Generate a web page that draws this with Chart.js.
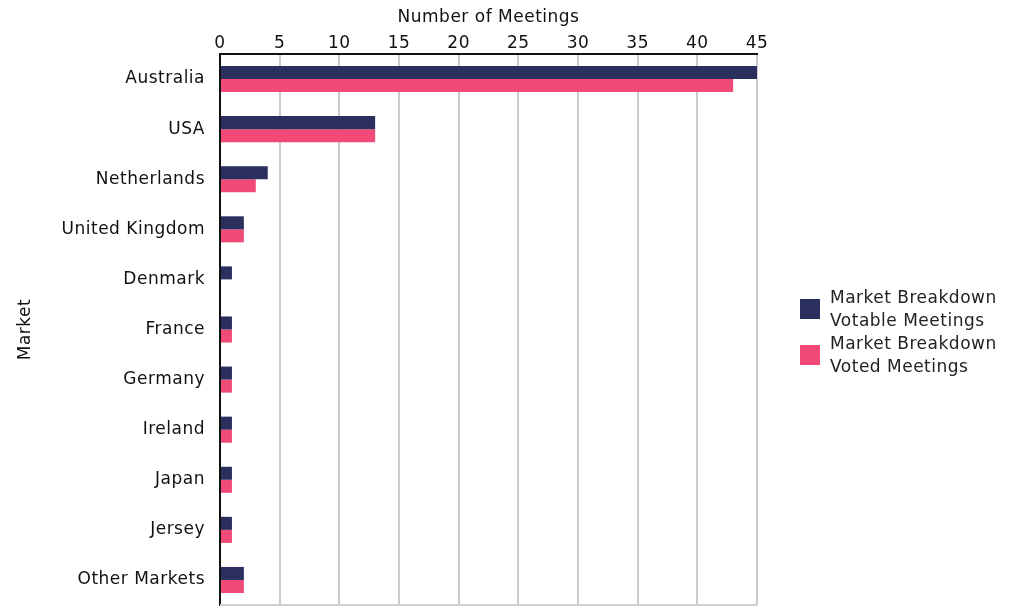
<!DOCTYPE html>
<html>
<head>
<meta charset="utf-8">
<script src="https://cdn.jsdelivr.net/npm/chart.js@4"></script>
<style>
  body { margin: 0; background: #fff; font-family: "DejaVu Sans", sans-serif; }
  #wrap { position: relative; width: 1021px; height: 609px; }
  #legend { position: absolute; left: 800px; top: 286px; font-size: 17px; letter-spacing: 0.5px; color: #222; line-height: 23px; }
  .item { display: flex; align-items: center; }
  .swatch { width: 20px; height: 20px; margin-right: 10px; }
</style>
</head>
<body>
<div id="wrap">
  <canvas id="marketChart" width="1021" height="609"></canvas>
  <div id="legend"></div>
</div>
<script>
const markets = ["Australia", "USA", "Netherlands", "United Kingdom", "Denmark", "France", "Germany", "Ireland", "Japan", "Jersey", "Other Markets"];
const votableMeetings = [45, 13, 4, 2, 1, 1, 1, 1, 1, 1, 2];
const votedMeetings = [43, 13, 3, 2, 0, 1, 1, 1, 1, 1, 2];
const seriesNames = [["Market Breakdown", "Votable Meetings"], ["Market Breakdown", "Voted Meetings"]];
const seriesColors = ["#2b2f5e", "#ef4a78"];

const textFont = { size: 17, family: "DejaVu Sans" };

// wider spacing like the original bitmap font
const spacing = {
  id: "spacing",
  beforeUpdate(chart) { chart.ctx.letterSpacing = "0.5px"; },
  beforeDraw(chart) { chart.ctx.letterSpacing = "0.5px"; },
};

const bottomLine = {
  id: "bottomLine",
  afterDraw(chart) {
    const { ctx, chartArea } = chart;
    ctx.save();
    ctx.strokeStyle = "#d0d0d0";
    ctx.lineWidth = 2;
    ctx.beginPath();
    ctx.moveTo(chartArea.left, chartArea.bottom);
    ctx.lineTo(chartArea.right, chartArea.bottom);
    ctx.stroke();
    ctx.restore();
  },
};

const ctx = document.getElementById("marketChart");
new Chart(ctx, {
  type: "bar",
  data: {
    labels: markets,
    datasets: [votableMeetings, votedMeetings].map((d, i) => ({
      label: seriesNames[i].join(" "),
      data: d,
      backgroundColor: seriesColors[i],
      categoryPercentage: 0.52,
      barPercentage: 1,
    })),
  },
  options: {
    indexAxis: "y",
    responsive: false,
    animation: false,
    layout: { padding: { left: 0, right: 264, top: 4, bottom: 4 } },
    plugins: { legend: { display: false }, tooltip: { enabled: false } },
    scales: {
      x: {
        position: "top",
        min: 0,
        max: 45,
        ticks: { stepSize: 5, color: "#111", font: textFont, padding: 0 },
        grid: { color: "#cccccc", lineWidth: 2, drawTicks: false },
        border: { color: "#111", width: 2 },
        title: { display: true, text: "Number of Meetings", color: "#111", font: textFont, padding: { top: 3, bottom: 0 } },
        afterFit(scale) { scale.height = 50; },
      },
      y: {
        ticks: { color: "#111", font: textFont, padding: 15 },
        grid: { display: false, drawTicks: false },
        border: { color: "#111", width: 2 },
        title: { display: true, text: "Market", color: "#111", font: textFont, padding: { top: 15, bottom: 0 } },
        afterFit(scale) {
          scale.width = 220;
          scale.paddingTop = 0;
          scale.paddingBottom = 0;
        },
      },
    },
  },
  plugins: [spacing, bottomLine],
});

const legendEl = document.getElementById("legend");
seriesNames.forEach((name, i) => {
  const item = document.createElement("div");
  item.className = "item";
  item.innerHTML = `<div class="swatch" style="background:${seriesColors[i]}"></div><div>${name.join("<br>")}</div>`;
  legendEl.appendChild(item);
});
</script>
</body>
</html>
